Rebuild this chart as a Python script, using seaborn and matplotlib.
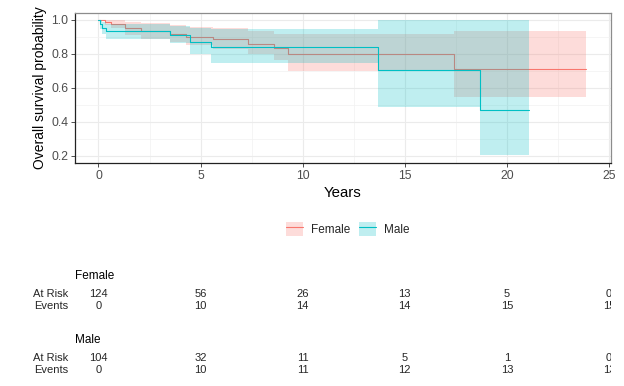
import numpy as np
import pandas as pd
import matplotlib
matplotlib.use("Agg")
import matplotlib.pyplot as plt
from matplotlib.patches import Patch
from matplotlib.lines import Line2D
from matplotlib.legend_handler import HandlerTuple
import seaborn as sns

# ---- data ----
groups = ["Female", "Male"]
female_time = [0, 0.3, 0.6, 1.3, 2.1, 3.5, 4.3, 5.6, 7.3, 8.6, 9.3, 17.4, 23.9]
female_surv = [1.0, 0.99, 0.976, 0.95, 0.935, 0.916, 0.90, 0.886, 0.857, 0.833, 0.80, 0.711, 0.711]
female_lower = [1.0, 0.97, 0.95, 0.91, 0.89, 0.87, 0.85, 0.83, 0.80, 0.765, 0.70, 0.545, 0.545]
female_upper = [1.0, 1.0, 1.0, 0.99, 0.98, 0.97, 0.96, 0.95, 0.935, 0.92, 0.92, 0.935, 0.935]

male_time = [0, 0.05, 0.15, 0.35, 3.5, 4.5, 5.5, 13.7, 18.7, 21.1]
male_surv = [1.0, 0.975, 0.955, 0.935, 0.913, 0.872, 0.839, 0.703, 0.467, 0.467]
male_lower = [1.0, 0.945, 0.92, 0.89, 0.865, 0.80, 0.745, 0.487, 0.203, 0.203]
male_upper = [1.0, 1.0, 0.99, 0.975, 0.965, 0.95, 0.945, 1.0, 1.0, 1.0]

table_times = [0, 5, 10, 15, 20, 25]
female_at_risk = [124, 56, 26, 13, 5, 0]
female_events = [0, 10, 14, 14, 15, 15]
male_at_risk = [104, 32, 11, 5, 1, 0]
male_events = [0, 10, 11, 12, 13, 13]

colors = {"Female": "#F8766D", "Male": "#00BFC4"}

df = pd.concat([
    pd.DataFrame({"time": female_time, "surv": female_surv, "lower": female_lower,
                  "upper": female_upper, "group": "Female"}),
    pd.DataFrame({"time": male_time, "surv": male_surv, "lower": male_lower,
                  "upper": male_upper, "group": "Male"}),
], ignore_index=True)

sns.set_theme(style="white")
plt.rcParams["font.family"] = ["Liberation Sans", "DejaVu Sans"]

W, H = 624, 386
fig = plt.figure(figsize=(W / 100, H / 100), dpi=100)

def fx(px):
    return px / W

def fy(py):
    return 1 - py / H

ax = fig.add_axes([fx(75), fy(163), fx(611) - fx(75), fy(13) - fy(163)])

z = 2
for g in groups:
    d = df[df.group == g]
    ax.fill_between(d.time, d.lower, d.upper, step="post", color=colors[g],
                    alpha=0.25, linewidth=0, zorder=z)
    sns.lineplot(data=d, x="time", y="surv", color=colors[g],
                 estimator=None, drawstyle="steps-post", linewidth=0.8, ax=ax,
                 legend=False, zorder=z + 1)
    z += 2

ax.set_xlim(-1.15, 25.1)
ax.set_ylim(0.157, 1.041)
ax.set_xticks([0, 5, 10, 15, 20, 25])
ax.set_xticks([2.5, 7.5, 12.5, 17.5, 22.5], minor=True)
ax.set_yticks([0.2, 0.4, 0.6, 0.8, 1.0])
ax.set_yticks([0.3, 0.5, 0.7, 0.9], minor=True)
ax.set_yticklabels(["0.2", "0.4", "0.6", "0.8", "1.0"])
ax.grid(which="major", color="#EBEBEB", linewidth=0.8, zorder=0)
ax.grid(which="minor", color="#F2F2F2", linewidth=0.5, zorder=0)
ax.set_axisbelow(True)
ax.tick_params(which="major", axis="both", direction="out", length=3, width=0.6,
               color="#333333", labelsize=8.8, labelcolor="#4D4D4D", pad=2,
               bottom=True, left=True)
ax.tick_params(which="minor", length=0)
for s in ["top", "right"]:
    ax.spines[s].set_color("#8C8C8C")
    ax.spines[s].set_linewidth(0.9)
for s in ["left", "bottom"]:
    ax.spines[s].set_color("#222222")
    ax.spines[s].set_linewidth(0.9)
ax.set_xlabel("Years", fontsize=10.8, color="black", labelpad=3)
ax.set_ylabel("Overall survival probability", fontsize=10, color="black", labelpad=3)

# legend
handles = [(Patch(facecolor=colors[g], alpha=0.25, edgecolor="none"),
            Line2D([], [], color=colors[g], linewidth=0.8)) for g in groups]
fig.legend(handles, groups, handler_map={tuple: HandlerTuple(ndivide=1, pad=0)},
           loc="center", bbox_to_anchor=(fx(348), fy(229)), ncol=2, frameon=False,
           fontsize=8.5, handlelength=1.45, handleheight=1.5, handletextpad=0.7,
           columnspacing=0.7)

# risk table
tax = fig.add_axes([fx(75), fy(385), fx(611) - fx(75), fy(265) - fy(385)])
tax.set_xlim(ax.get_xlim())
tax.set_ylim(385, 265)
tax.axis("off")

def block(title, y0, at_risk, events):
    tax.text(-1.15, y0, title, ha="left", va="center", fontsize=8.5, color="black")
    fig.text(fx(68), fy(y0 + 18), "At Risk", ha="right", va="center", fontsize=8.0)
    fig.text(fx(68), fy(y0 + 30), "Events", ha="right", va="center", fontsize=8.0)
    for t, r, e in zip(table_times, at_risk, events):
        tax.text(t, y0 + 18, str(r), ha="center", va="center", fontsize=8.0, clip_on=True)
        tax.text(t, y0 + 30, str(e), ha="center", va="center", fontsize=8.0, clip_on=True)

block("Female", 276, female_at_risk, female_events)
block("Male", 340, male_at_risk, male_events)

fig.savefig("out.png", dpi=100)
